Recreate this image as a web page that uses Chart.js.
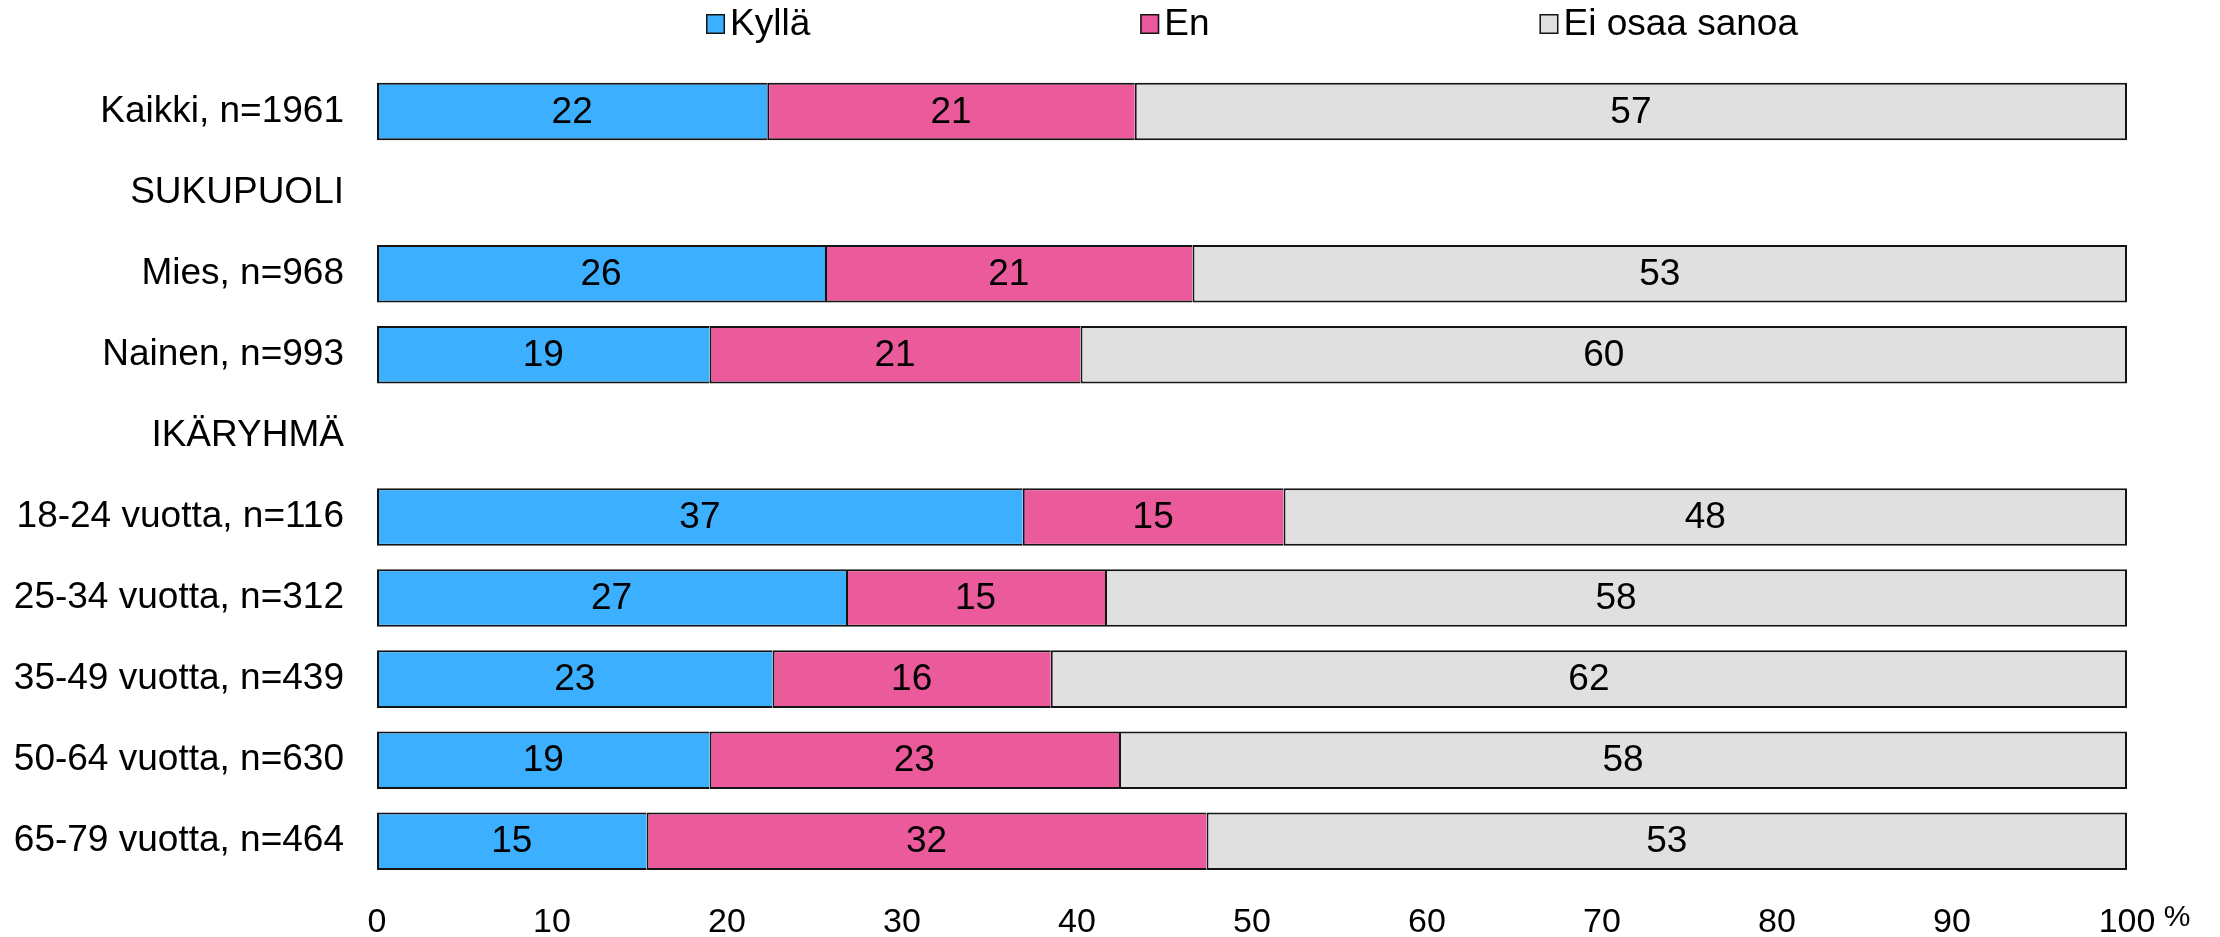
<!DOCTYPE html>
<html>
<head>
<meta charset="utf-8">
<script src="https://cdn.jsdelivr.net/npm/chart.js@4.4.1/dist/chart.umd.min.js"></script>
<style>
  html, body { margin: 0; padding: 0; background: #ffffff; }
  #wrap { width: 2220px; height: 937px; }
</style>
</head>
<body>
<div id="wrap"><canvas id="c" width="2220" height="937"></canvas></div>
<script>
const categories = [
  'Kaikki, n=1961',
  'SUKUPUOLI',
  'Mies, n=968',
  'Nainen, n=993',
  'IKÄRYHMÄ',
  '18-24 vuotta, n=116',
  '25-34 vuotta, n=312',
  '35-49 vuotta, n=439',
  '50-64 vuotta, n=630',
  '65-79 vuotta, n=464'
];
const seriesNames = ['Kyllä', 'En', 'Ei osaa sanoa'];
const kylla = [22.3, null, 25.6, 19.0, null, 36.9, 26.8, 22.6, 19.0, 15.4];
const en    = [21.0, null, 21.0, 21.2, null, 14.9, 14.8, 15.9, 23.4, 32.0];
const eos   = [56.7, null, 53.4, 59.8, null, 48.2, 58.4, 61.5, 57.6, 52.6];
const xTicks = [0, 10, 20, 30, 40, 50, 60, 70, 80, 90, 100];
const unitLabel = '%';

const FONT = "'Liberation Sans', Arial, sans-serif";
const colors = ['#3cb0ff', '#eb5b9c', '#e0e0e0'];
const edge = '#141414';

const valueLabels = {
  id: 'valueLabels',
  afterDatasetsDraw(chart) {
    const ctx = chart.ctx;
    ctx.save();
    ctx.font = '37px ' + FONT;
    ctx.fillStyle = '#000';
    ctx.textAlign = 'center';
    ctx.textBaseline = 'middle';
    chart.data.datasets.forEach((ds, di) => {
      const meta = chart.getDatasetMeta(di);
      meta.data.forEach((el, i) => {
        const v = ds.data[i];
        if (v === null || v === undefined) return;
        const p = el.getCenterPoint();
        ctx.fillText(String(Math.round(v)), p.x, p.y + 1);
      });
    });
    ctx.restore();
  }
};

const topLegend = {
  id: 'topLegend',
  afterDraw(chart) {
    const ctx = chart.ctx;
    const area = chart.chartArea;
    ctx.save();
    ctx.font = '37px ' + FONT;
    const boxW = 19, boxH = 20, gapTxt = 5, gapItem = 330;
    const items = chart.data.datasets.map(ds => ({
      text: ds.label, color: ds.backgroundColor,
      w: boxW + gapTxt + ctx.measureText(ds.label).width
    }));
    const total = items.reduce((s, it) => s + it.w, 0) + gapItem * (items.length - 1);
    let x = (area.left + area.right) / 2 - total / 2;
    const cy = 24;
    items.forEach(it => {
      ctx.fillStyle = it.color;
      ctx.fillRect(x, cy - boxH / 2, boxW, boxH);
      ctx.lineWidth = 1.5;
      ctx.strokeStyle = edge;
      ctx.strokeRect(x + 0.75, cy - boxH / 2 + 0.75, boxW - 1.5, boxH - 1.5);
      ctx.fillStyle = '#000';
      ctx.textAlign = 'left';
      ctx.textBaseline = 'middle';
      ctx.fillText(it.text, x + boxW + gapTxt, cy + 1);
      x += it.w + gapItem;
    });
    // unit label next to the last x tick
    const xs = chart.scales.x;
    ctx.font = '30px ' + FONT;
    ctx.textAlign = 'center';
    ctx.fillText(unitLabel, xs.getPixelForValue(xTicks[xTicks.length - 1]) + 50, 918);
    ctx.restore();
  }
};

const mk = (i, data, bw) => ({
  label: seriesNames[i],
  data: data,
  backgroundColor: colors[i],
  borderColor: edge,
  borderWidth: bw,
  borderSkipped: false,
  barPercentage: 0.71,
  categoryPercentage: 1.0
});

new Chart(document.getElementById('c'), {
  type: 'bar',
  data: {
    labels: categories,
    datasets: [
      mk(0, kylla, {top: 2, bottom: 2, left: 2, right: 0}),
      mk(1, en,    {top: 2, bottom: 2, left: 2, right: 0}),
      mk(2, eos,   {top: 2, bottom: 2, left: 2, right: 2})
    ]
  },
  options: {
    indexAxis: 'y',
    responsive: false,
    animation: false,
    devicePixelRatio: 1,
    layout: { padding: { top: 71, right: 93, bottom: 0, left: 0 } },
    plugins: {
      legend: { display: false },
      tooltip: { enabled: false }
    },
    scales: {
      x: {
        stacked: true,
        min: 0, max: 100,
        afterBuildTicks(scale) { scale.ticks = xTicks.map(v => ({ value: v })); },
        afterFit(scale) { scale.height = 54; },
        grid: { display: false, drawTicks: false },
        border: { display: false },
        ticks: {
          color: '#000',
          padding: 20,
          maxRotation: 0,
          autoSkip: false,
          font: { family: FONT, size: 34 }
        }
      },
      y: {
        stacked: true,
        afterFit(scale) { scale.width = 377; },
        grid: { display: false, drawTicks: false },
        border: { display: false },
        ticks: {
          color: '#000',
          padding: 33,
          autoSkip: false,
          font: { family: FONT, size: 37 }
        }
      }
    }
  },
  plugins: [valueLabels, topLegend]
});
</script>
</body>
</html>
